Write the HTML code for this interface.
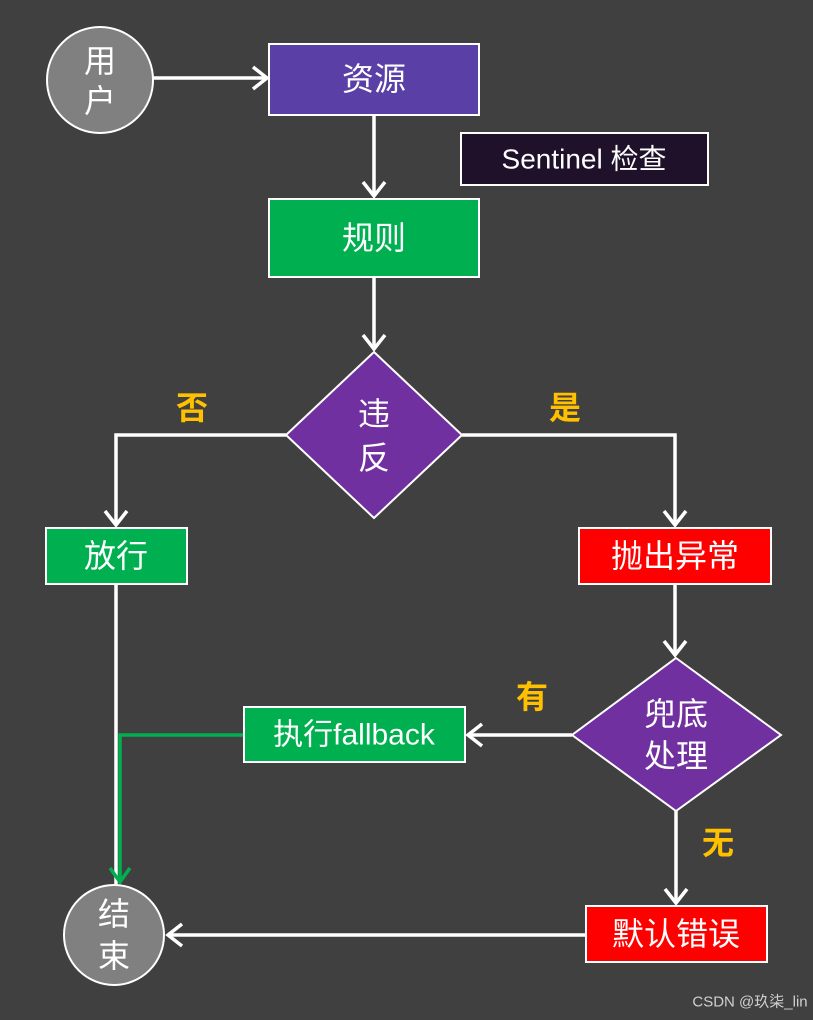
<!DOCTYPE html>
<html><head><meta charset="utf-8"><style>
html,body{margin:0;padding:0;background:#404040;}
svg{display:block}
text{font-family:"Liberation Sans","Noto Sans CJK SC",sans-serif;fill:#fff;text-anchor:middle;dominant-baseline:central}
.y{fill:#ffc000;font-weight:bold;font-size:32px}
</style></head><body>
<svg width="813" height="1020" viewBox="0 0 813 1020" xmlns="http://www.w3.org/2000/svg">
<rect width="813" height="1020" fill="#404040"/>
<g stroke="#fff" stroke-width="3.5" fill="none" stroke-linejoin="miter">
<!-- lines -->
<line x1="153" y1="78" x2="266" y2="78"/><polyline points="253,67 267,78 253,89"/>
<line x1="374" y1="115" x2="374" y2="196"/><polyline points="363,182 374,196 385,182"/>
<line x1="374" y1="277" x2="374" y2="349"/><polyline points="363,335 374,349 385,335"/>
<polyline points="286,435 116,435 116,525"/><polyline points="105,511 116,525 127,511"/>
<polyline points="462,435 675,435 675,525"/><polyline points="664,511 675,525 686,511"/>
<line x1="675" y1="584" x2="675" y2="655"/><polyline points="664,641 675,655 686,641"/>
<line x1="572" y1="735" x2="468" y2="735"/><polyline points="482,724 468,735 482,746"/>
<line x1="676" y1="811" x2="676" y2="903"/><polyline points="665,889 676,903 687,889"/>
<line x1="586" y1="935" x2="168" y2="935"/><polyline points="182,924 168,935 182,946"/>
<line x1="116" y1="584" x2="116" y2="884"/>
</g>
<g stroke="#00b050" stroke-width="3.5" fill="none">
<polyline points="244,735 120,735 120,882"/><polyline points="110,868 120,882 130,868"/>
</g>
<g stroke="#fff" stroke-width="2">
<circle cx="100" cy="80" r="53" fill="#808080"/>
<rect x="269" y="44" width="210" height="71" fill="#5a3fa6"/>
<rect x="461" y="133" width="247" height="52" fill="#1f1129"/>
<rect x="269" y="199" width="210" height="78" fill="#00b050"/>
<polygon points="374,352 462,435 374,518 286,435" fill="#7030a0"/>
<rect x="46" y="528" width="141" height="56" fill="#00b050"/>
<rect x="579" y="528" width="192" height="56" fill="#ff0000"/>
<polygon points="676,658 781,735 676,811 572,735" fill="#7030a0"/>
<rect x="244" y="707" width="221" height="55" fill="#00b050"/>
<rect x="586" y="906" width="181" height="56" fill="#ff0000"/>
<circle cx="114" cy="935" r="50" fill="#808080"/>
</g>
<text x="100" y="61" font-size="32">用</text>
<text x="100" y="101" font-size="32">户</text>
<text x="374" y="79" font-size="32">资源</text>
<text x="584" y="159" font-size="28">Sentinel 检查</text>
<text x="374" y="238" font-size="32">规则</text>
<text x="374" y="414" font-size="32">违</text>
<text x="374" y="458" font-size="32">反</text>
<text x="116" y="556" font-size="32">放行</text>
<text x="675" y="556" font-size="32">抛出异常</text>
<text x="676" y="714" font-size="32">兜底</text>
<text x="676" y="756" font-size="32">处理</text>
<text x="354" y="735" font-size="30">执行fallback</text>
<text x="676" y="934" font-size="32">默认错误</text>
<text x="114" y="914" font-size="32">结</text>
<text x="114" y="956" font-size="32">束</text>
<text class="y" x="192" y="408">否</text>
<text class="y" x="565" y="408">是</text>
<text class="y" x="532" y="697">有</text>
<text class="y" x="718" y="843">无</text>
<text x="750" y="1002" font-size="15" fill="#d0d0d0" style="fill:#d0d0d0">CSDN @玖柒_lin</text>
</svg>
</body></html>
